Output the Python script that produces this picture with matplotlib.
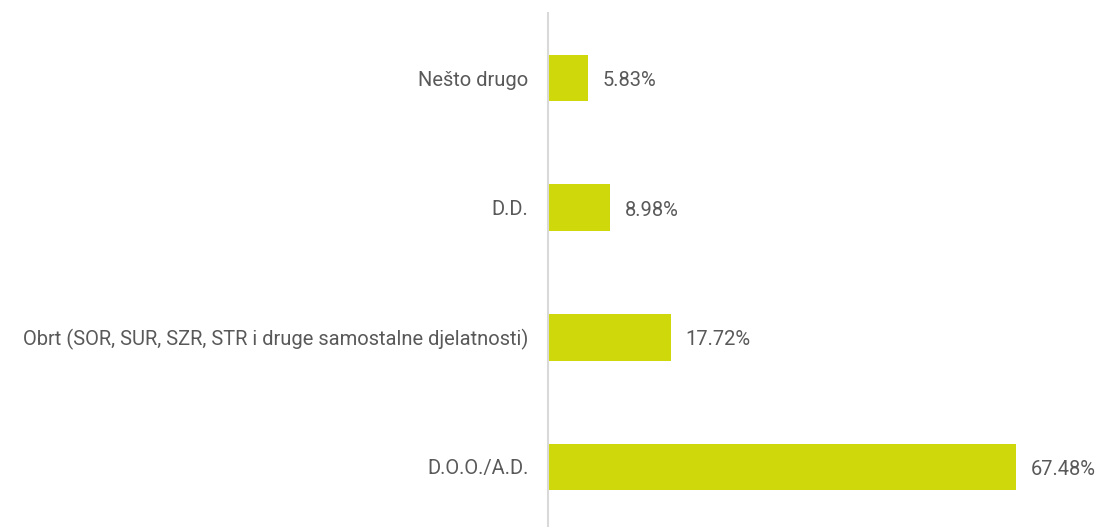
import matplotlib
matplotlib.use("Agg")
import matplotlib.pyplot as plt

categories = ["D.O.O./A.D.",
              "Obrt (SOR, SUR, SZR, STR i druge samostalne djelatnosti)",
              "D.D.",
              "Nešto drugo"]
values = [67.48, 17.72, 8.98, 5.83]

plt.rcParams["font.family"] = ["Roboto", "DejaVu Sans"]

bar_color = "#CFD80B"
text_color = "#595959"

fig = plt.figure(figsize=(11, 5.27), dpi=100)
ax = fig.add_axes([0.498, 0.0, 0.473, 0.975])

ypos = range(len(categories))
ax.barh(ypos, values, height=0.36, color=bar_color)

for y, v in zip(ypos, values):
    ax.text(v + 2.1, y - 0.02, f"{v:.2f}%", va="center", ha="left",
            fontsize=14.5, color=text_color)

ax.set_yticks(list(ypos))
ax.set_yticklabels(categories, fontsize=14.5, color=text_color)
ax.tick_params(axis="y", length=0, pad=14)
ax.set_xticks([])
ax.set_xlim(0, 75)
ax.set_ylim(-0.463, 3.5)

for s in ["top", "right", "bottom"]:
    ax.spines[s].set_visible(False)
ax.spines["left"].set_color("#d9d9d9")
ax.spines["left"].set_linewidth(1.5)

fig.savefig("out.png", dpi=100)
